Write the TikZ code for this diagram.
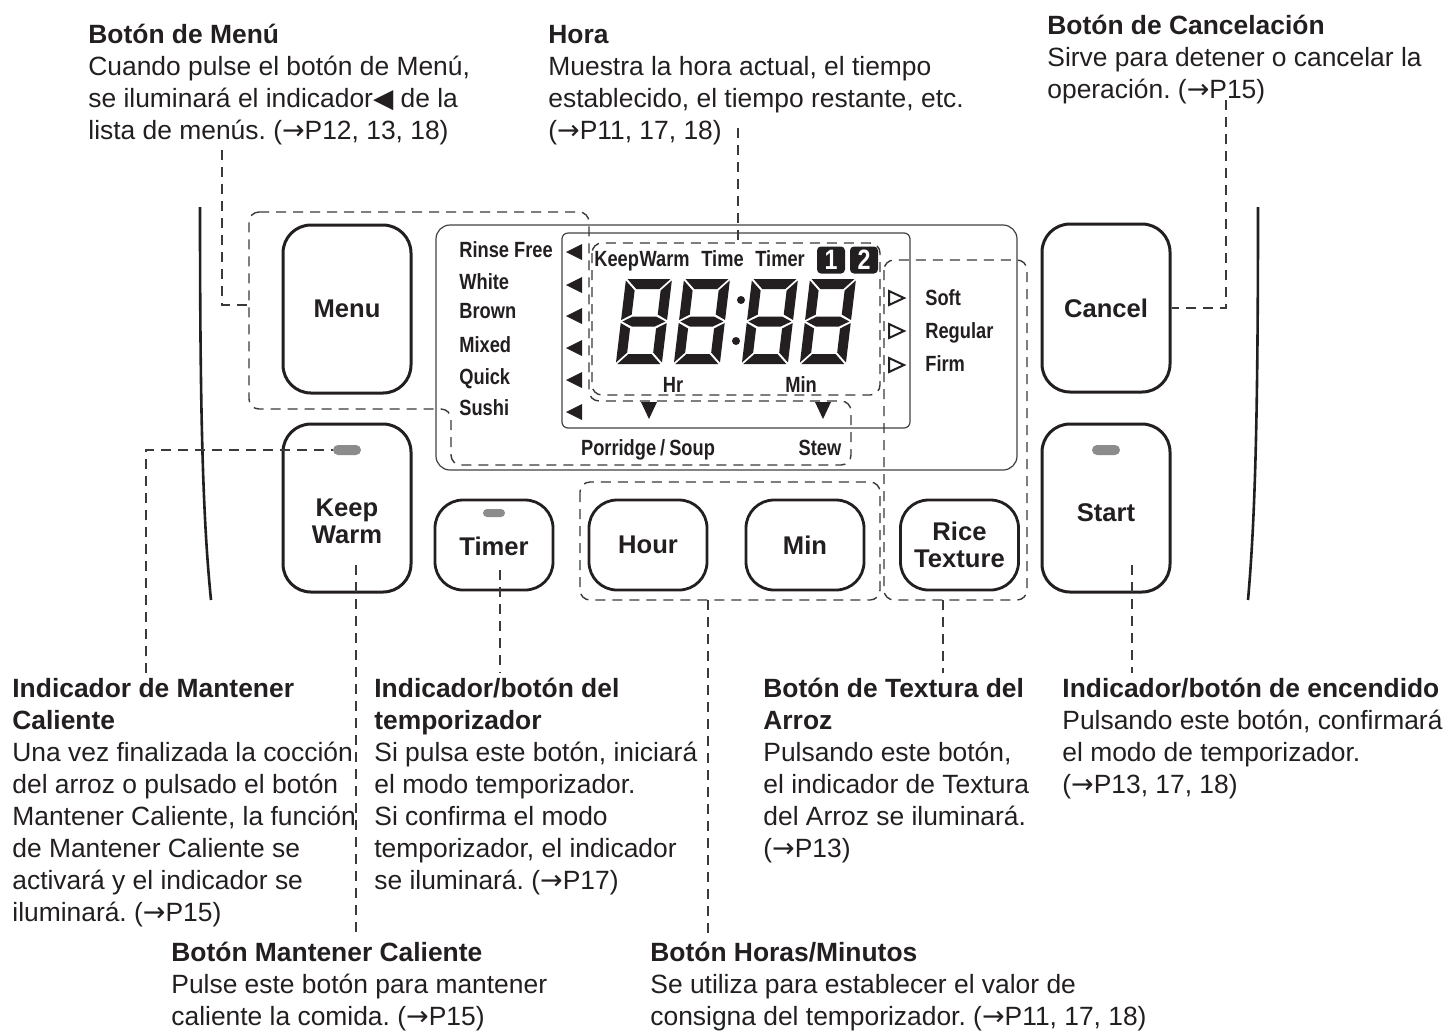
\documentclass[tikz,border=0pt]{standalone}
\usepackage{fontspec}
\setmainfont{Liberation Sans}
\newfontfamily\condf[FakeStretch=0.83]{Liberation Sans}
\newfontfamily\symf{DejaVu Sans}
\definecolor{ink}{HTML}{231F20}
\definecolor{led}{HTML}{8C8C8C}
\definecolor{dashc}{HTML}{3A3A3A}
\frenchspacing
\newcommand\fs{\rule{0pt}{14pt}}
\newcommand\ar{{\symf\fontsize{13.5}{16}\selectfont →}}
\newcommand\lcddigit[2]{%
\begin{scope}[shift={(#1,#2)}, xslant=0.12]
\fill[ink] (1.5,0)--(44.5,0)--(34.5,10)--(11.5,10)--cycle;
\fill[ink] (1.5,85)--(44.5,85)--(34.5,75)--(11.5,75)--cycle;
\fill[ink] (1.5,42.5)--(11.5,37.5)--(34.5,37.5)--(44.5,42.5)--(34.5,47.5)--(11.5,47.5)--cycle;
\fill[ink] (0,1.5)--(10,11.5)--(10,35.5)--(0,41)--cycle;
\fill[ink] (46,1.5)--(36,11.5)--(36,35.5)--(46,41)--cycle;
\fill[ink] (0,44)--(10,49.5)--(10,73.5)--(0,83.5)--cycle;
\fill[ink] (46,44)--(36,49.5)--(36,73.5)--(46,83.5)--cycle;
\end{scope}}
\begin{document}
\begin{tikzpicture}[x=0.5pt,y=-0.5pt,
 txt/.style={anchor=north west, inner sep=0pt, align=left, text=ink, font=\fontsize{13.2}{16}\selectfont},
 bigbtn/.style={draw=ink, line width=1.5pt, rounded corners=14pt, minimum width=64pt, minimum height=84pt, inner sep=0pt},
 smbtn/.style={draw=ink, line width=1.4pt, rounded corners=14pt, minimum width=59pt, minimum height=45pt, inner sep=0pt},
 blab/.style={text=ink, font=\fontsize{12.8}{13.5}\selectfont\bfseries, align=center, inner sep=0pt},
 lcdlab/.style={text=ink, font=\condf\fontsize{11}{12}\selectfont\bfseries, inner sep=0pt, text height=8pt, text depth=2.2pt, yshift=-1pt},
 numbox/.style={fill=ink, text=white, rounded corners=2pt, minimum width=14pt, minimum height=13.5pt, inner sep=0pt, font=\condf\fontsize{14}{14}\selectfont\bfseries},
 dbox/.style={draw=dashc, line width=0.7pt, dash pattern=on 5pt off 3.5pt, rounded corners=5pt},
 conn/.style={draw=dashc, line width=0.7pt, dash pattern=on 5pt off 3.5pt},
 thinline/.style={draw=ink!85, line width=0.6pt},
 ledpill/.style={fill=led, rounded corners=2.5pt, inner sep=0pt}]
\fill[white] (0,0) rectangle (1456,1030);
\useasboundingbox (0,0) rectangle (1456,1030);

% side contours
\draw[ink, line width=1.3pt] (200,207) .. controls (200,420) and (203,520) .. (211,600);
\draw[ink, line width=1.3pt] (1258,207) .. controls (1258,420) and (1255,520) .. (1248,600);

% display frames
\draw[thinline, rounded corners=7pt] (436,225) rectangle (1017,470);
\draw[thinline, rounded corners=3pt] (562,233) rectangle (910,428);

% dashed groups
\draw[dbox] (249,212) -- (589,212) -- (589,401) -- (851,401) -- (851,465) -- (451,465) -- (451,409) -- (249,409) -- cycle;
\draw[dbox] (592,243) rectangle (880,395);
\draw[dbox] (884,260) rectangle (1027,600);
\draw[dbox] (580,482) rectangle (880,600);

% buttons
\node[bigbtn, blab] (menu) at (347,309) {Menu};
\node[bigbtn] (kw) at (347,508) {};
\node[blab] (kwL) at (347,521) {Keep\\Warm};
\node[ledpill, minimum width=14pt, minimum height=5pt] (kwled) at (347,450) {};
\node[smbtn] (timer) at (494,545) {};
\node[blab] (timerL) at (494,546) {Timer};
\node[ledpill, minimum width=11pt, minimum height=4pt, rounded corners=2pt] (tled) at (494,513) {};
\node[smbtn, blab] (hour) at (648,545) {Hour};
\node[smbtn, blab] (min) at (805,545) {Min};
\node[smbtn, blab] (rice) at (959.5,545) {Rice\\Texture};
\node[bigbtn, blab] (cancel) at (1106,308) {Cancel};
\node[bigbtn] (start) at (1106,508) {};
\node[blab] (startL) at (1106,513) {Start};
\node[ledpill, minimum width=14pt, minimum height=5pt] (sled) at (1106,450) {};

% LCD menu list
\node[lcdlab, anchor=west] (l1) at (459,250) {Rinse Free};
\node[lcdlab, anchor=west] (l2) at (459,282) {White};
\node[lcdlab, anchor=west] (l3) at (459,311) {Brown};
\node[lcdlab, anchor=west] (l4) at (459,345) {Mixed};
\node[lcdlab, anchor=west] (l5) at (459,377) {Quick};
\node[lcdlab, anchor=west] (l6) at (459,408) {Sushi};
\foreach \yy in {252,285,316,348,380,412}
  \fill[ink] (582,\yy-8) -- (582,\yy+8) -- (566,\yy) -- cycle;
\node[lcdlab, anchor=west] (kwlcd) at (594,259) {Keep\hspace{0.3pt}Warm};
\node[lcdlab, anchor=west] (timelcd) at (701,259) {Time};
\node[lcdlab, anchor=west] (timerlcd) at (755,259) {Timer};
\node[numbox] (one) at (831,260) {1};
\node[numbox] (two) at (864,260) {2};
\lcddigit{626}{279}
\lcddigit{684}{279}
\lcddigit{752}{279}
\lcddigit{810}{279}
\fill[ink] (741,300) circle (4);
\fill[ink] (736,341) circle (4);
\node[lcdlab] (hr) at (673,385) {Hr};
\node[lcdlab] (mn) at (801,385) {Min};
\fill[ink] (641,402)--(657,402)--(649,419)--cycle;
\fill[ink] (815,402)--(831,402)--(823,419)--cycle;
\node[lcdlab] (porr) at (648,448) {Porridge\hspace{2pt}/\hspace{2pt}Soup};
\node[lcdlab] (stew) at (820,448) {Stew};
\foreach \yy in {298,331,365}
  \draw[ink, line width=1pt] (889,\yy-7)--(904,\yy)--(889,\yy+7)--cycle;
\node[lcdlab, anchor=west] (soft) at (925,298) {Soft};
\node[lcdlab, anchor=west] (reg) at (925,331) {Regular};
\node[lcdlab, anchor=west] (firm) at (925,364) {Firm};

% annotation texts
\node[txt] (tMenu) at (88,15) {\fs\textbf{Botón de Menú}\\Cuando pulse el botón de Menú,\\se iluminará el indicador{\symf ◀} de la\\lista de menús. (\ar P12, 13, 18)};
\node[txt] (tHora) at (548,15) {\fs\textbf{Hora}\\Muestra la hora actual, el tiempo\\establecido, el tiempo restante, etc.\\(\ar P11, 17, 18)};
\node[txt] (tCancel) at (1047,6) {\fs\textbf{Botón de Cancelación}\\Sirve para detener o cancelar la\\operación. (\ar P15)};
\node[txt] (tKWI) at (12,669) {\fs\textbf{Indicador de Mantener}\\\textbf{Caliente}\\Una vez finalizada la cocción\\del arroz o pulsado el botón\\Mantener Caliente, la función\\de Mantener Caliente se\\activará y el indicador se\\iluminará. (\ar P15)};
\node[txt] (tTimer) at (374,669) {\fs\textbf{Indicador/botón del}\\\textbf{temporizador}\\Si pulsa este botón, iniciará\\el modo temporizador.\\Si confirma el modo\\temporizador, el indicador\\se iluminará. (\ar P17)};
\node[txt] (tRice) at (763,669) {\fs\textbf{Botón de Textura del}\\\textbf{Arroz}\\Pulsando este botón,\\el indicador de Textura\\del Arroz se iluminará.\\(\ar P13)};
\node[txt] (tStart) at (1062,669) {\fs\textbf{Indicador/botón de encendido}\\Pulsando este botón, confirmará\\el modo de temporizador.\\(\ar P13, 17, 18)};
\node[txt] (tKWB) at (171,933) {\fs\textbf{Botón Mantener Caliente}\\Pulse este botón para mantener\\caliente la comida. (\ar P15)};
\node[txt] (tHM) at (650,933) {\fs\textbf{Botón Horas/Minutos}\\Se utiliza para establecer el valor de\\consigna del temporizador. (\ar P11, 17, 18)};

% connectors
\coordinate (cMenuA) at (222,150);
\coordinate (cMenuB) at (249,305);
\draw[conn] (cMenuA) |- (cMenuB);
\coordinate (cHoraA) at (738,128);
\coordinate (cHoraB) at (738,243);
\draw[conn] (cHoraA) -- (cHoraB);
\coordinate (cCanA) at (1226,100);
\draw[conn] (cCanA) |- (cancel.east);
\coordinate (cKWIA) at (146,673);
\draw[conn] (cKWIA) |- (kwled.west);
\coordinate (cKWBA) at (356,565);
\coordinate (cKWBB) at (356,935);
\draw[conn] (cKWBA) -- (cKWBB);
\coordinate (cTimA) at (500,570);
\coordinate (cTimB) at (500,673);
\draw[conn] (cTimA) -- (cTimB);
\coordinate (cHMA) at (708,600);
\coordinate (cHMB) at (708,935);
\draw[conn] (cHMA) -- (cHMB);
\coordinate (cRiceA) at (943,600);
\coordinate (cRiceB) at (943,673);
\draw[conn] (cRiceA) -- (cRiceB);
\coordinate (cStA) at (1132,565);
\coordinate (cStB) at (1132,673);
\draw[conn] (cStA) -- (cStB);
\end{tikzpicture}
\end{document}
